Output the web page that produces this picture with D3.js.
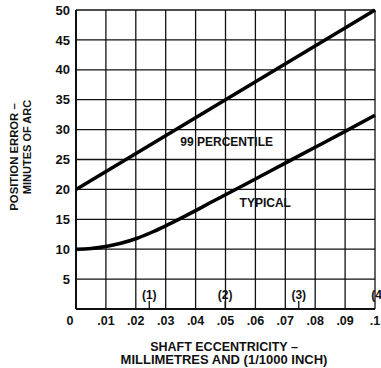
<!DOCTYPE html>
<html>
<head>
<meta charset="utf-8">
<script src="https://cdn.jsdelivr.net/npm/d3@7"></script>
<style>
  body { margin: 0; background: #fff; }
  svg text { font-family: "Liberation Sans", Arial, Helvetica, sans-serif; font-weight: bold; fill: #111; }
</style>
</head>
<body>
<svg id="chart" width="381" height="368"></svg>
<script>
const W = 381, H = 368;
const margin = {top: 10, right: 6, bottom: 59, left: 76};

// data
const percentile99 = [[0, 20], [0.1, 50]];
const typical = [
  [0, 10], [0.005, 10.12], [0.01, 10.45], [0.015, 11.0], [0.02, 11.75],
  [0.025, 12.75], [0.03, 13.9], [0.035, 15.15], [0.04, 16.45], [0.045, 17.8],
  [0.05, 19.1], [0.06, 21.75], [0.07, 24.4], [0.08, 27.05], [0.09, 29.7], [0.1, 32.4]
];
const xTicks = [0, 0.01, 0.02, 0.03, 0.04, 0.05, 0.06, 0.07, 0.08, 0.09, 0.1];
const xTickLabels = ["0", ".01", ".02", ".03", ".04", ".05", ".06", ".07", ".08", ".09", ".1"];
const yTicks = [5, 10, 15, 20, 25, 30, 35, 40, 45, 50];
const inchMarks = [0.0245, 0.0499, 0.0745, 0.1012];
const inchLabels = ["(1)", "(2)", "(3)", "(4)"];
const seriesLabels = [
  {text: "99 PERCENTILE", x: 0.0504, y: 27.2},
  {text: "TYPICAL", x: 0.0633, y: 17.1}
];

const svg = d3.select("#chart");
const x = d3.scaleLinear().domain([0, 0.1]).range([margin.left, W - margin.right]);
const y = d3.scaleLinear().domain([0, 50]).range([H - margin.bottom, margin.top]);

// grid
const grid = svg.append("g").attr("stroke", "#111").attr("stroke-width", 1.3);
grid.selectAll(".vgrid").data(xTicks.slice(1)).enter().append("line")
  .attr("x1", d => x(d)).attr("x2", d => x(d))
  .attr("y1", y(0)).attr("y2", y(50));
grid.selectAll(".hgrid").data(yTicks).enter().append("line")
  .attr("x1", x(0)).attr("x2", x(0.1))
  .attr("y1", d => y(d)).attr("y2", d => y(d));

// left and bottom axis lines
svg.append("line").attr("x1", x(0)).attr("x2", x(0)).attr("y1", y(0)).attr("y2", y(50))
  .attr("stroke", "#111").attr("stroke-width", 2);
svg.append("line").attr("x1", x(0)).attr("x2", x(0.1)).attr("y1", y(0)).attr("y2", y(0))
  .attr("stroke", "#111").attr("stroke-width", 2);

// inch marks
svg.selectAll(".inchTick").data(inchMarks.filter(d => d <= 0.1)).enter().append("line")
  .attr("x1", d => x(d)).attr("x2", d => x(d))
  .attr("y1", y(0)).attr("y2", y(0) - 8)
  .attr("stroke", "#111").attr("stroke-width", 1.3);
svg.selectAll(".inchLabel").data(inchMarks).enter().append("text")
  .attr("x", d => x(d)).attr("y", y(0) - 10)
  .attr("text-anchor", "middle").attr("font-size", 12)
  .text((d, i) => inchLabels[i]);

// tick labels
svg.selectAll(".xlab").data(xTicks).enter().append("text")
  .attr("x", d => x(d) + (d === 0 ? -6 : 0)).attr("y", y(0) + 16)
  .attr("text-anchor", "middle").attr("font-size", 12.5)
  .text((d, i) => xTickLabels[i]);
svg.selectAll(".ylab").data(yTicks).enter().append("text")
  .attr("x", x(0) - 6).attr("y", d => y(d)).attr("dy", "0.36em")
  .attr("text-anchor", "end").attr("font-size", 13)
  .text(d => d);

// curves
const line = d3.line().x(d => x(d[0])).y(d => y(d[1])).curve(d3.curveMonotoneX);
[percentile99, typical].forEach(s => {
  svg.append("path").datum(s).attr("d", line)
    .attr("fill", "none").attr("stroke", "#000").attr("stroke-width", 3.5);
});

// series labels
svg.selectAll(".slab").data(seriesLabels).enter().append("text")
  .attr("x", d => x(d.x)).attr("y", d => y(d.y))
  .attr("text-anchor", "middle").attr("font-size", 12)
  .text(d => d.text);

// axis titles
svg.append("text").attr("x", 224).attr("y", 350.5).attr("text-anchor", "middle")
  .attr("font-size", 12.5).text("SHAFT ECCENTRICITY \u2013");
svg.append("text").attr("x", 224).attr("y", 364).attr("text-anchor", "middle")
  .attr("font-size", 13).text("MILLIMETRES AND (1/1000 INCH)");

svg.append("text").attr("transform", "translate(18,157) rotate(-90)")
  .attr("text-anchor", "middle").attr("font-size", 11.3).text("POSITION ERROR \u2013");
svg.append("text").attr("transform", "translate(31,147) rotate(-90)")
  .attr("text-anchor", "middle").attr("font-size", 11).text("MINUTES OF ARC");
</script>
</body>
</html>
